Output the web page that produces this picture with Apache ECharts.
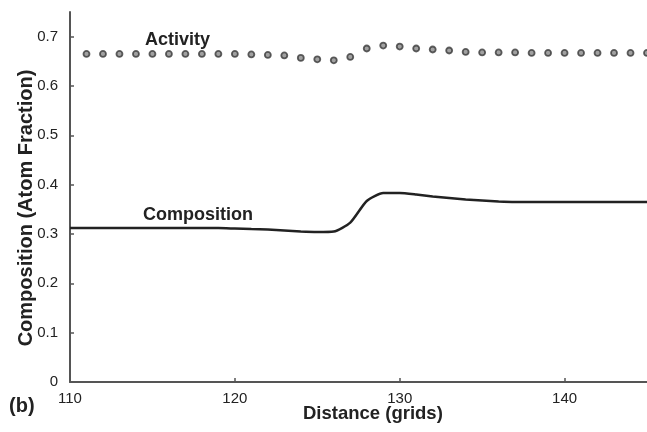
<!DOCTYPE html>
<html>
<head>
<meta charset="utf-8">
<script src="https://cdn.jsdelivr.net/npm/echarts@6/dist/echarts.min.js"></script>
<style>html,body{margin:0;padding:0;background:#fff;}#c{width:647px;height:432px;}</style>
</head>
<body>
<div id="c"></div>
<script>
var compX = [110,111,112,113,114,115,116,117,118,119,120,121,122,123,124,125,126,127,128,129,130,131,132,133,134,135,136,137,138,139,140,141,142,143,144,145];
var compY = [0.312,0.312,0.312,0.312,0.312,0.312,0.312,0.312,0.312,0.312,0.311,0.310,0.309,0.307,0.305,0.304,0.305,0.323,0.367,0.383,0.383,0.380,0.376,0.373,0.370,0.368,0.366,0.365,0.365,0.365,0.365,0.365,0.365,0.365,0.365,0.365];
var actX = [111,112,113,114,115,116,117,118,119,120,121,122,123,124,125,126,127,128,129,130,131,132,133,134,135,136,137,138,139,140,141,142,143,144,145];
var actY = [0.665,0.665,0.665,0.665,0.665,0.665,0.665,0.665,0.665,0.665,0.664,0.663,0.662,0.657,0.654,0.652,0.659,0.676,0.682,0.680,0.676,0.674,0.672,0.669,0.668,0.668,0.668,0.667,0.667,0.667,0.667,0.667,0.667,0.667,0.667];
var xTicks = [110,120,130,140];
var yTicks = [0,0.1,0.2,0.3,0.4,0.5,0.6,0.7];

function pairs(xs, ys){ return xs.map(function(x,i){ return [x, ys[i]]; }); }

var FONT = '"Liberation Sans", Arial, sans-serif';
var chart = echarts.init(document.getElementById('c'), null, {renderer:'canvas'});
chart.setOption({
  animation: false,
  backgroundColor: '#fff',
  grid: {left: 70, top: 12, width: 579, height: 370, containLabel: false},
  xAxis: {
    type: 'value', min: 110, max: 145, interval: 10,
    axisLine: {show: true, lineStyle: {color: '#555', width: 2}},
    axisTick: {show: true, inside: true, length: 4, lineStyle: {color: '#555', width: 1.5}},
    axisLabel: {show: true, margin: 9, fontFamily: FONT, fontSize: 15, color: '#222', showMaxLabel: false,
      formatter: function(v){ return xTicks.indexOf(v) >= 0 ? String(v) : ''; }},
    splitLine: {show: false}
  },
  yAxis: {
    type: 'value', min: 0, max: 0.75, interval: 0.1,
    axisLine: {show: true, onZero: false, lineStyle: {color: '#555', width: 2}},
    axisTick: {show: true, inside: true, length: 4, lineStyle: {color: '#555', width: 1.5}},
    axisLabel: {show: true, margin: 12, fontFamily: FONT, fontSize: 15, color: '#222', showMaxLabel: false,
      formatter: function(v){ var r = Math.round(v*10)/10; return yTicks.indexOf(r) >= 0 && Math.abs(r - v) < 1e-6 ? String(r) : ''; }},
    splitLine: {show: false}
  },
  series: [
    {
      name: 'Composition', type: 'line', data: pairs(compX, compY),
      showSymbol: false, symbol: 'none', smooth: 0.2,
      lineStyle: {color: '#222', width: 2.5}, clip: false
    },
    {
      name: 'Activity', type: 'scatter', data: pairs(actX, actY),
      symbol: 'circle', symbolSize: 6,
      itemStyle: {color: '#8a8a8a', borderColor: '#3a3a3a', borderWidth: 1.8}, clip: false
    }
  ],
  graphic: [
    {type: 'text', left: 145, top: 31, style: {text: 'Activity', font: 'bold 18px ' + FONT, fill: '#222'}},
    {type: 'text', left: 143, top: 206, style: {text: 'Composition', font: 'bold 18px ' + FONT, fill: '#222'}},
    {type: 'text', left: 9, top: 396, style: {text: '(b)', font: 'bold 20px ' + FONT, fill: '#222'}},
    {type: 'text', left: 303, top: 404, style: {text: 'Distance (grids)', font: 'bold 18.5px ' + FONT, fill: '#222'}},
    {type: 'text', x: 26, y: 208, rotation: Math.PI/2,
      style: {text: 'Composition (Atom Fraction)', font: 'bold 20px ' + FONT, fill: '#222', align: 'center', verticalAlign: 'middle'}}
  ]
});
</script>
</body>
</html>
